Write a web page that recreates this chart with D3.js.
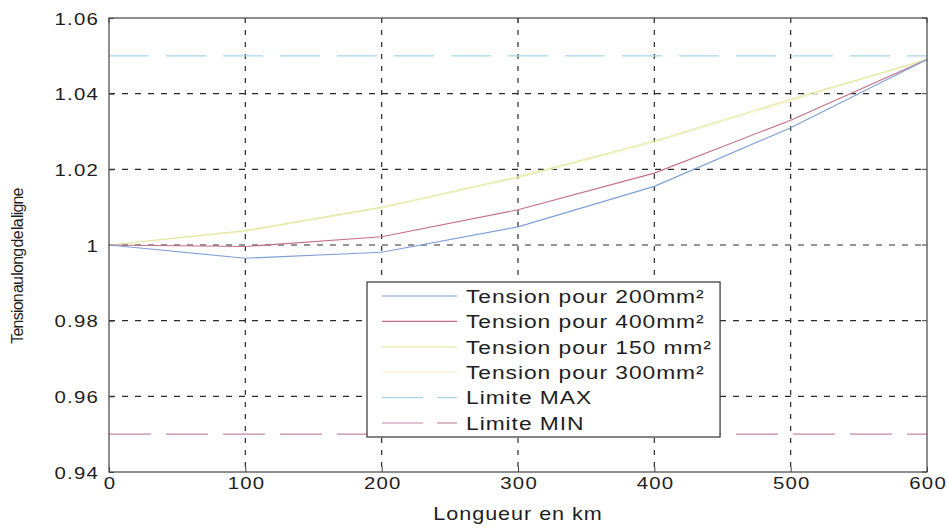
<!DOCTYPE html>
<html>
<head>
<meta charset="utf-8">
<script src="https://cdn.jsdelivr.net/npm/d3@7"></script>
<style>
  html, body { margin: 0; padding: 0; background: #fff; }
  svg { display: block; font-family: "Liberation Sans", Arial, Helvetica, sans-serif; }
</style>
</head>
<body>
<svg id="chart" width="947" height="529"></svg>
<script>
// Line length in km at which the voltage was computed
const distances = [0, 100, 200, 300, 400, 500, 600];

// Per-unit voltage along the line for each conductor section
const tension200 = [1.0, 0.9965, 0.9981, 1.0048, 1.0155, 1.0310, 1.0490];
const tension400 = [1.0, 0.9996, 1.0022, 1.0093, 1.0190, 1.0330, 1.0490];
const tension150 = [1.0, 1.0038, 1.0100, 1.0180, 1.0275, 1.0385, 1.0490];
const tension300 = [1.0, 1.0036, 1.0097, 1.0177, 1.0271, 1.0381, 1.0490];

// Admissible voltage band
const limiteMax = [1.05, 1.05];
const limiteMin = [0.95, 0.95];
const limiteX = [0, 600];

const xTicks = [0, 100, 200, 300, 400, 500, 600];
const yTicks = [0.94, 0.96, 0.98, 1.0, 1.02, 1.04, 1.06];
const yTickLabels = ["0.94", "0.96", "0.98", "1", "1.02", "1.04", "1.06"];

const seriesNames = [
  "Tension pour 200mm\u00B2",
  "Tension pour 400mm\u00B2",
  "Tension pour 150 mm\u00B2",
  "Tension pour 300mm\u00B2",
  "Limite MAX",
  "Limite MIN"
];

const svg = d3.select("#chart");
const plot = { left: 109, right: 927, top: 18, bottom: 472 };
const WIDE = 1.2; // horizontal widening of the printed lettering

const x = d3.scaleLinear().domain([0, 600]).range([plot.left, plot.right]);
const y = d3.scaleLinear().domain([0.94, 1.06]).range([plot.bottom, plot.top]);

// Widen a text horizontally around its anchor point
function widen(sel) {
  sel.each(function () {
    const t = d3.select(this);
    const tx = +t.attr("x") || 0, ty = +t.attr("y") || 0;
    t.attr("x", 0).attr("y", 0)
      .attr("transform", `translate(${tx},${ty}) scale(${WIDE},1)`);
  });
}

// Dashed grid
const grid = svg.append("g");
grid.selectAll("line.v").data(xTicks.slice(1, -1)).join("line")
  .attr("x1", d => x(d)).attr("x2", d => x(d))
  .attr("y1", plot.top).attr("y2", plot.bottom)
  .attr("stroke", "#2a2a2a").attr("stroke-width", 1.2)
  .attr("stroke-dasharray", "5,7");
grid.selectAll("line.h").data(yTicks.slice(1, -1)).join("line")
  .attr("x1", plot.left).attr("x2", plot.right)
  .attr("y1", d => y(d)).attr("y2", d => y(d))
  .attr("stroke", "#2a2a2a").attr("stroke-width", 1.2)
  .attr("stroke-dasharray", "6,7");

// Axes (ticks inside, labels drawn via the axis generators)
const xAxis = d3.axisBottom(x).tickValues(xTicks).tickSize(-5).tickPadding(5);
const yAxis = d3.axisLeft(y).tickValues(yTicks).tickSize(-5).tickPadding(10)
  .tickFormat((d, i) => yTickLabels[i]);

const gx = svg.append("g").attr("transform", `translate(0,${plot.bottom})`).call(xAxis);
const gy = svg.append("g").attr("transform", `translate(${plot.left},0)`).call(yAxis);
[gx, gy].forEach(g => {
  g.select(".domain").remove();
  g.selectAll(".tick line").attr("stroke", "#444");
  g.selectAll(".tick text")
    .attr("fill", "#1e1e1e")
    .style("font-size", "17px")
    .style("letter-spacing", "1px");
  widen(g.selectAll(".tick text"));
});
gy.selectAll(".tick text").attr("dy", "0.36em");
gx.selectAll(".tick text").attr("dx", "0.5px");

// Right-hand and top ticks close the boxed axis
svg.append("g").selectAll("line").data(yTicks).join("line")
  .attr("x1", plot.right).attr("x2", plot.right - 5)
  .attr("y1", d => y(d)).attr("y2", d => y(d)).attr("stroke", "#444");
svg.append("g").selectAll("line").data(xTicks).join("line")
  .attr("x1", d => x(d)).attr("x2", d => x(d))
  .attr("y1", plot.top).attr("y2", plot.top + 5).attr("stroke", "#444");

// Series definitions
const series = [
  { name: seriesNames[0], xs: distances, ys: tension200, color: "#7f9fd6", dash: null, width: 1.1 },
  { name: seriesNames[1], xs: distances, ys: tension400, color: "#c46f8a", dash: null, width: 1.1 },
  { name: seriesNames[2], xs: distances, ys: tension150, color: "#e2e9a2", dash: null, width: 1.1 },
  { name: seriesNames[3], xs: distances, ys: tension300, color: "#f7f1cf", dash: null, width: 1.1 },
  { name: seriesNames[4], xs: limiteX, ys: limiteMax, color: "#a3d6e8", dash: "40,17", width: 1.1 },
  { name: seriesNames[5], xs: limiteX, ys: limiteMin, color: "#c488ab", dash: "42,15", width: 1.1 }
];

const line = d3.line().x(d => x(d[0])).y(d => y(d[1]));
const linesG = svg.append("g");
// palest first so the stronger colours stay on top
[3, 2, 4, 5, 1, 0].forEach(i => {
  const s = series[i];
  linesG.append("path")
    .datum(s.xs.map((v, k) => [v, s.ys[k]]))
    .attr("d", line)
    .attr("fill", "none")
    .attr("stroke", s.color)
    .attr("stroke-width", s.width)
    .attr("stroke-dasharray", s.dash);
});

// Frame
svg.append("rect")
  .attr("x", plot.left).attr("y", plot.top)
  .attr("width", plot.right - plot.left).attr("height", plot.bottom - plot.top)
  .attr("fill", "none").attr("stroke", "#444").attr("stroke-width", 1.2);

// Legend
const legend = { left: 367, top: 282, bottom: 437, rowH: 25.4, firstRow: 296, textX: 466 };
const lg = svg.append("g");
const legendBox = lg.append("rect")
  .attr("x", legend.left).attr("y", legend.top)
  .attr("height", legend.bottom - legend.top)
  .attr("fill", "#fff").attr("stroke", "#333").attr("stroke-width", 1.2);

const rows = lg.selectAll("g.row").data(series).join("g")
  .attr("transform", (d, i) => `translate(0,${legend.firstRow + i * legend.rowH})`);
rows.each(function (s) {
  const r = d3.select(this);
  if (s.dash) {
    r.append("line").attr("x1", 382).attr("x2", 423).attr("y1", 0).attr("y2", 0)
      .attr("stroke", s.color).attr("stroke-width", 1.2);
    r.append("line").attr("x1", 437).attr("x2", 457).attr("y1", 0).attr("y2", 0)
      .attr("stroke", s.color).attr("stroke-width", 1.2);
  } else {
    r.append("line").attr("x1", 382).attr("x2", 457).attr("y1", 0).attr("y2", 0)
      .attr("stroke", s.color).attr("stroke-width", 1.2);
  }
});
const legendTexts = rows.append("text")
  .attr("x", legend.textX).attr("y", 0).attr("dy", "0.36em")
  .attr("fill", "#1e1e1e")
  .style("font-size", "19px")
  .style("letter-spacing", "0.8px")
  .text(d => d.name);

let maxW = 0;
legendTexts.each(function () { maxW = Math.max(maxW, this.getComputedTextLength()); });
widen(legendTexts);
legendBox.attr("width", legend.textX + maxW * WIDE + 8 - legend.left);

// Axis titles
const xTitle = svg.append("text")
  .attr("x", (plot.left + plot.right) / 2).attr("y", 520)
  .attr("text-anchor", "middle").attr("fill", "#1e1e1e")
  .style("font-size", "18px").style("letter-spacing", "0.8px")
  .text("Longueur en km");
widen(xTitle);

svg.append("text")
  .attr("transform", "translate(23,266) rotate(-90)")
  .attr("text-anchor", "middle").attr("fill", "#1e1e1e")
  .style("font-size", "16px").style("letter-spacing", "-0.8px").style("word-spacing", "-2.5px")
  .text("Tension au long de la ligne");
</script>
</body>
</html>
